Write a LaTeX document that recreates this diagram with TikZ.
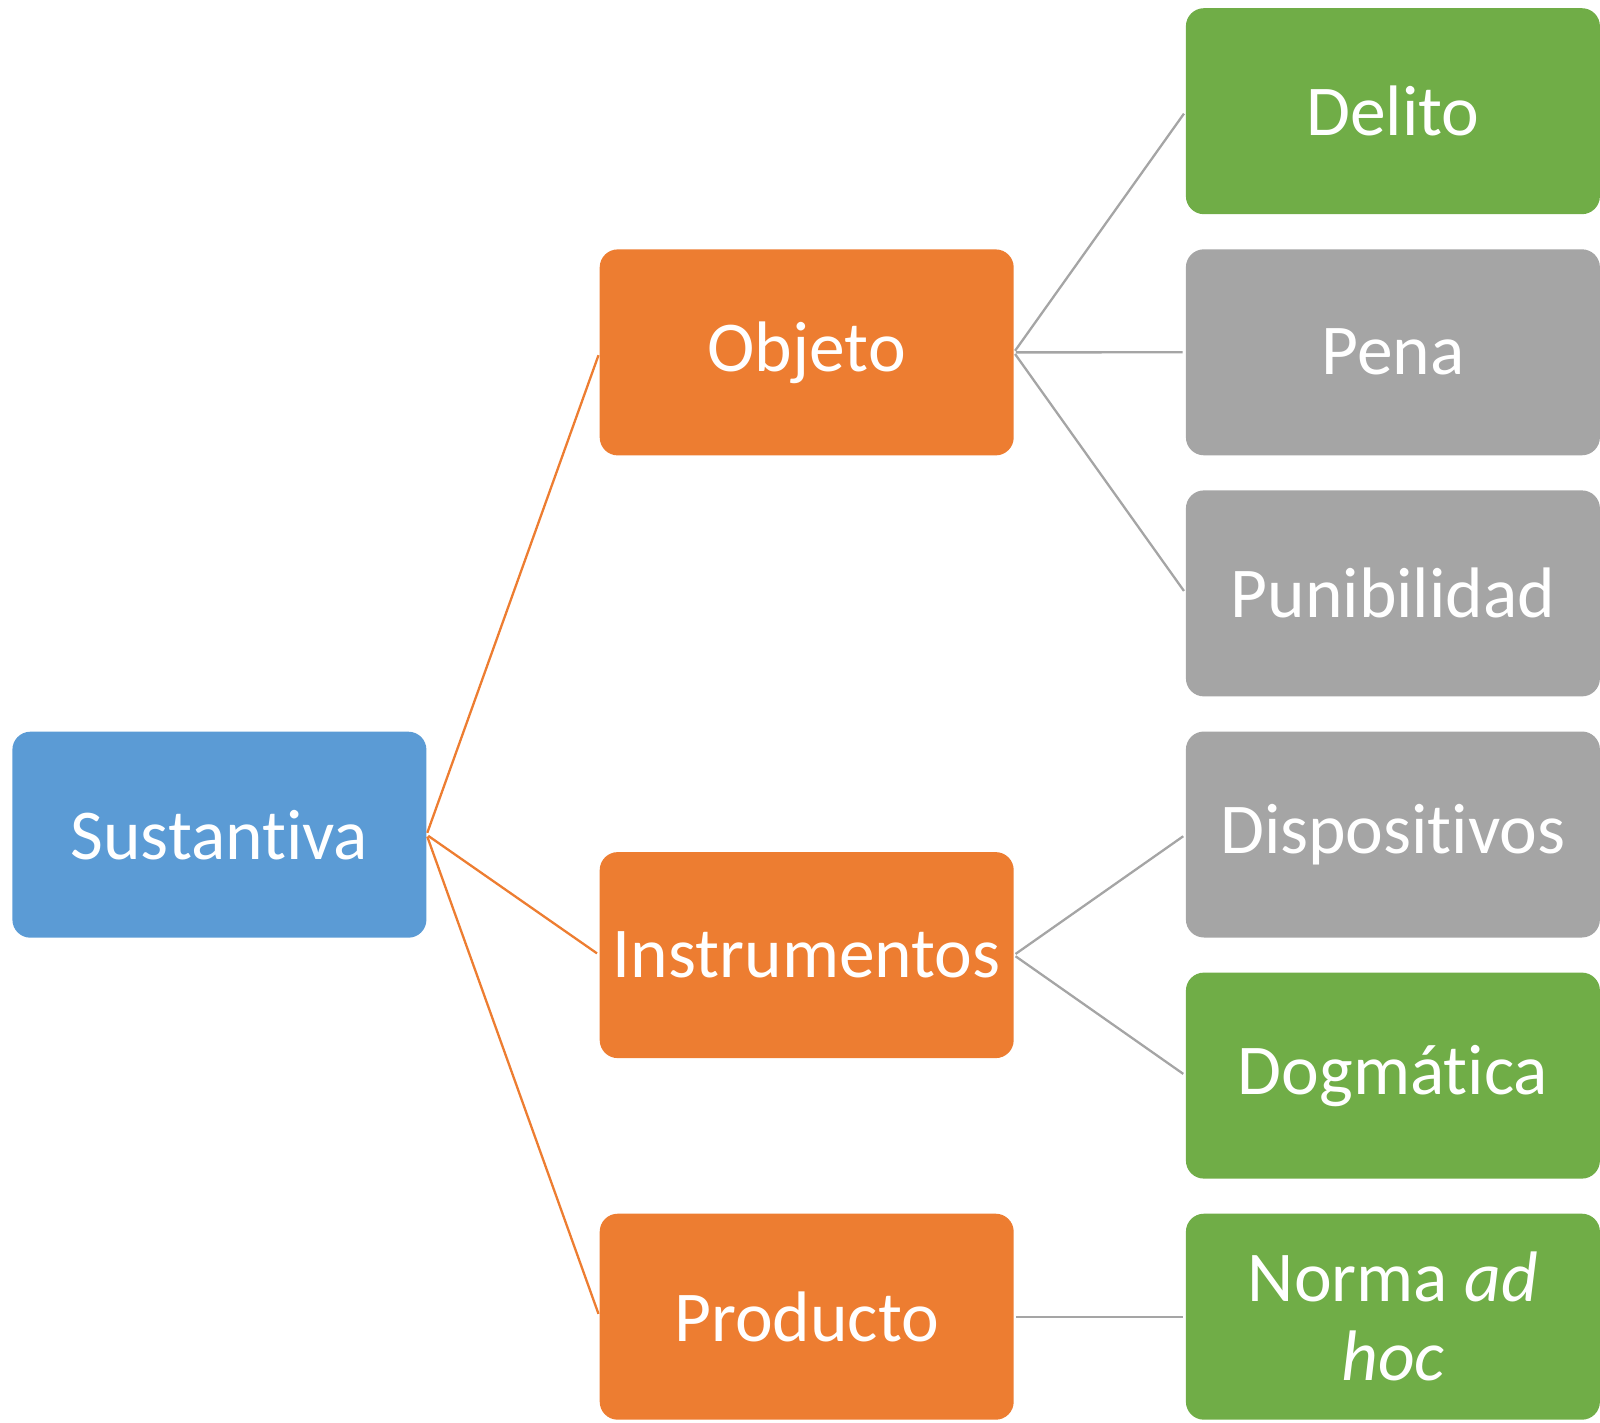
\documentclass[tikz,border=0pt]{standalone}
\usepackage{fontspec}
\setmainfont{Carlito}[Ligatures={NoCommon}]
\definecolor{cblue}{HTML}{5B9BD5}
\definecolor{corange}{HTML}{ED7D31}
\definecolor{cgray}{HTML}{A5A5A5}
\definecolor{cgreen}{HTML}{70AD47}
\begin{document}
\begin{tikzpicture}[x=1pt,y=-1pt,
  box/.style={rectangle, rounded corners=18pt, minimum width=414pt, minimum height=206pt,
    inner sep=0pt, text=white, align=center, font=\fontsize{71.5}{79}\selectfont},
  bluebox/.style={box, fill=cblue},
  orangebox/.style={box, fill=corange},
  graybox/.style={box, fill=cgray},
  greenbox/.style={box, fill=cgreen},
  olink/.style={draw=corange, line width=2.3pt, shorten <=2pt, shorten >=3pt},
  glink/.style={draw=cgray, line width=2.3pt, shorten <=2pt, shorten >=3pt}]
\useasboundingbox (0,0) rectangle (1600,1423);
\node[bluebox] (sus) at (219.4,834.7) {Sustantiva};
\node[orangebox] (obj) at (806.7,352.4) {Objeto};
\node[orangebox] (ins) at (806.7,955.1) {Instrumentos};
\node[orangebox] (pro) at (806.7,1316.7) {Producto};
\node[greenbox] (del) at (1392.9,111.2) {Delito};
\node[graybox] (pen) at (1392.9,352.3) {Pena};
\node[graybox] (pun) at (1392.9,593.4) {Punibilidad};
\node[graybox] (dis) at (1392.9,834.5) {Dispositivos};
\node[greenbox] (dog) at (1392.9,1075.6) {Dogmática};
\node[greenbox] (nor) at (1392.9,1316.7) {Norma \textit{ad}\\\textit{hoc}};
\draw[olink] (sus.east) -- (obj.west);
\draw[olink] (sus.east) -- (ins.west);
\draw[olink] (sus.east) -- (pro.west);
\draw[glink] (obj.east) -- (del.west);
\draw[glink] (obj.east) -- (pen.west);
\draw[glink] (obj.east) -- (pun.west);
\draw[glink] (ins.east) -- (dis.west);
\draw[glink] (ins.east) -- (dog.west);
\draw[glink] (pro.east) -- (nor.west);
\end{tikzpicture}
\end{document}
